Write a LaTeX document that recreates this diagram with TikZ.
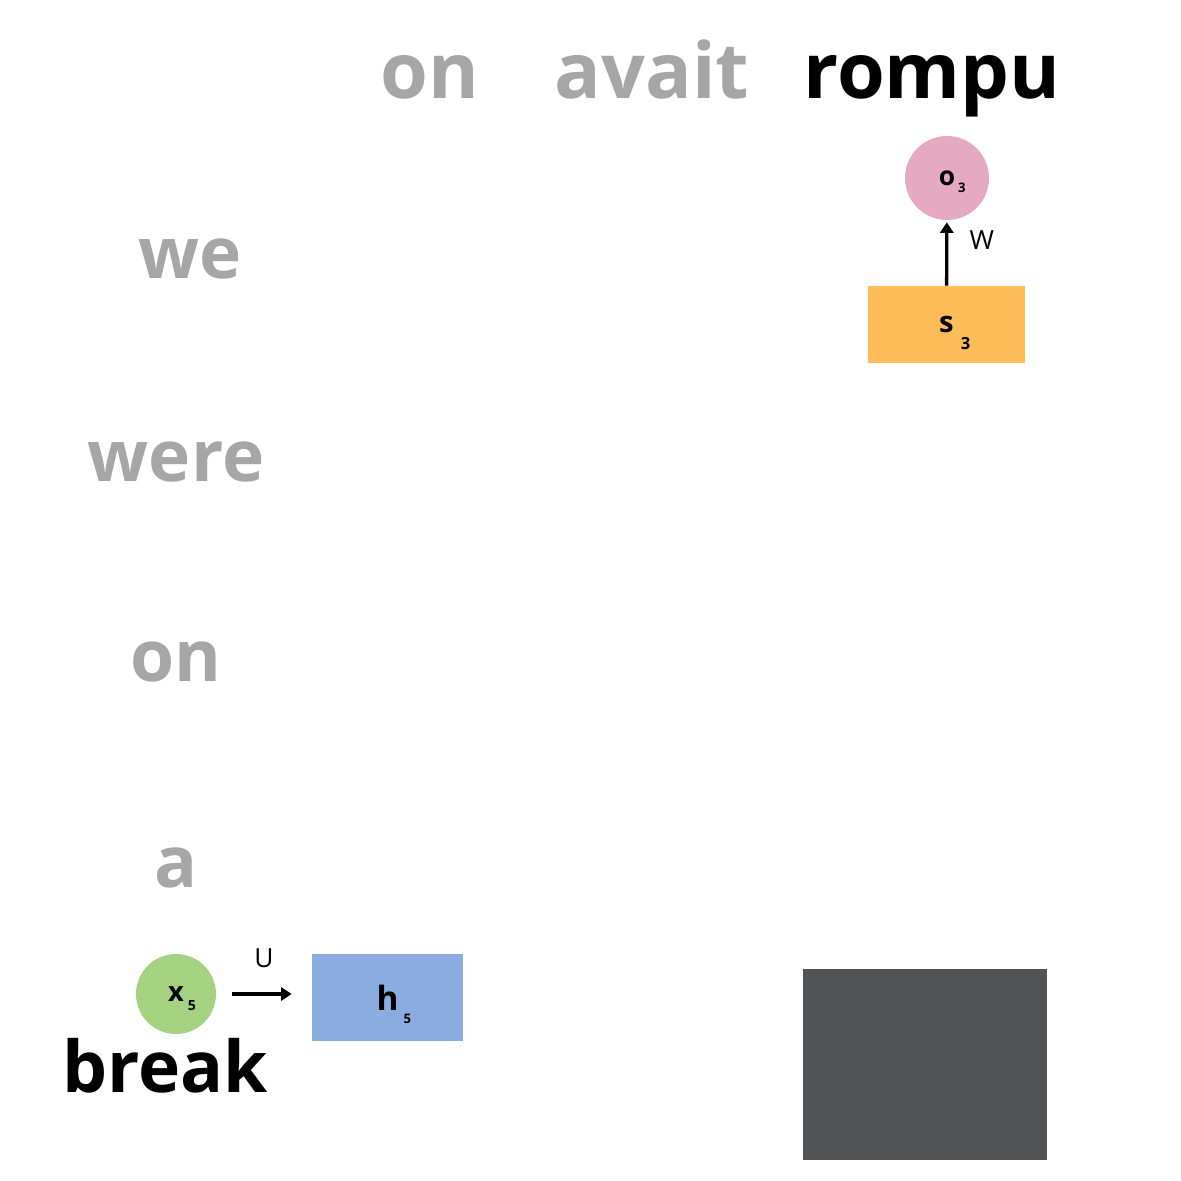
\documentclass[tikz,border=0pt]{standalone}
\usepackage{fontspec}
\setmainfont{Open Sans}
\usetikzlibrary{arrows.meta}
\definecolor{wordgray}{HTML}{A6A6A6}
\definecolor{outpink}{HTML}{E6A9C2}
\definecolor{statorange}{HTML}{FFBD59}
\definecolor{inpgreen}{HTML}{A5D281}
\definecolor{hidblue}{HTML}{8AACE0}
\definecolor{darkpanel}{HTML}{525355}
% letter with a small index set low on its right
\newcommand{\idx}[6]{{\fontsize{#1}{#1}\selectfont\bfseries #3}\rlap{\hspace{#4}\raisebox{-#5}[0pt][0pt]{\fontsize{#2}{#2}\selectfont\bfseries #6}}}
\begin{document}
\begin{tikzpicture}[x=0.02cm,y=-0.02cm,
	  word/.style={anchor=base,inner sep=0pt,font=\fontsize{40.6}{48}\selectfont\bfseries,text=wordgray},
	  topword/.style={word,font=\fontsize{44}{52}\selectfont\bfseries},
	  unit/.style={circle,inner sep=0pt},
	  cell/.style={rectangle,inner sep=0pt},
	  link/.style={-{Triangle[length=6pt,width=7.5pt]},line width=1.9pt},
	  wlabel/.style={font=\fontsize{15}{15}\selectfont,inner sep=0pt}]
	  \useasboundingbox (0,0) rectangle (1181,1181);
	  % source and target words
	  \node[topword] (fon) at (430,98) {on};
	  \node[topword] (favait) at (652,98) {avait};
	  \node[topword,text=black] (frompu) at (932,98) {rompu};
	  \node[word] (ewe) at (190,278) {we};
	  \node[word] (ewere) at (176,481) {were};
	  \node[word] (eon) at (176,681) {on};
	  \node[word] (ea) at (176,887) {a};
	  \node[word,text=black] (ebreak) at (165,1092) {break};
	  % decoder side
	  \node[cell,fill=statorange,minimum width=3.14cm,minimum height=1.54cm] (s3) at (946.5,324.5) {\idx{16.7}{9.5}{s}{4pt}{9.6pt}{3}};
	  \node[unit,fill=outpink,minimum size=1.68cm] (o3) at (947,178) {\idx{15}{7.5}{o}{1.7pt}{4pt}{3}};
	  \draw[link,shorten >=0.04cm] (s3) -- (o3) node[wlabel,pos=0.7,right=12pt]{W};
	  % encoder side
	  \node[unit,fill=inpgreen,minimum size=1.6cm] (x5) at (176,994) {\idx{15.5}{8}{x}{2.3pt}{5pt}{5}};
	  \node[cell,fill=hidblue,minimum width=3.02cm,minimum height=1.74cm] (h5) at (387.5,997.5) {\idx{19}{7.5}{h}{3pt}{7.4pt}{5}};
	  \draw[link,shorten <=0.32cm,shorten >=0.4cm] (x5.east) -- (x5.east -| h5.west) node[wlabel,midway,above=14pt]{U};
	  \node[cell,fill=darkpanel,minimum width=4.88cm,minimum height=3.82cm] (panel) at (925,1064.5) {};
	\end{tikzpicture}
\end{document}
